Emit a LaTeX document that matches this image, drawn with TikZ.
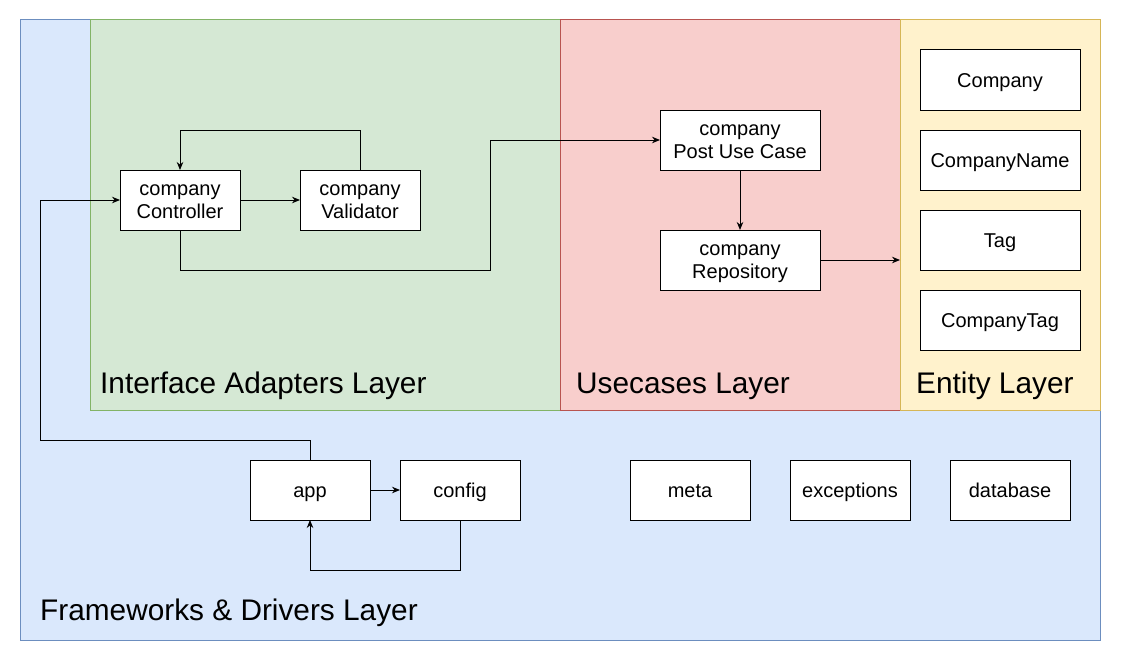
\documentclass[tikz,border=0pt]{standalone}
\usepackage{fontspec}
\setmainfont{Liberation Sans}
\usetikzlibrary{arrows.meta,calc}
\definecolor{bluef}{HTML}{DAE8FC}\definecolor{blues}{HTML}{6C8EBF}
\definecolor{greenf}{HTML}{D5E8D4}\definecolor{greens}{HTML}{82B366}
\definecolor{redf}{HTML}{F8CECC}\definecolor{reds}{HTML}{B85450}
\definecolor{yellowf}{HTML}{FFF2CC}\definecolor{yellows}{HTML}{D6B656}
\tikzset{
  layer/.style={draw, line width=1pt, inner sep=0pt, outer sep=0pt},
  box/.style={draw=black, fill=white, line width=1pt, minimum width=120pt, minimum height=60pt,
    inner sep=0pt, outer sep=0pt, align=center, font=\fontsize{20}{23.5}\selectfont,
    text height=14.3pt, text depth=0pt},
  twobox/.style={box, text height=37.8pt},
  wbox/.style={box, minimum width=160pt},
  wtwobox/.style={twobox, minimum width=160pt},
  lbl/.style={anchor=base west, inner sep=0pt, font=\fontsize{29.8}{34}\selectfont},
  arr/.style={line width=1pt, -{Stealth[length=8pt,width=6.5pt]}},
  ln/.style={line width=1pt}
}
\begin{document}
\begin{tikzpicture}[x=1pt,y=-1pt]
\useasboundingbox (0,0) rectangle (1121,661);
\fill[white] (0,0) rectangle (1121,661);
% layers
\node[layer, draw=blues, fill=bluef, minimum width=1080pt, minimum height=620pt] (fw) at (560,330) {};
\node[layer, draw=greens, fill=greenf, minimum width=470pt, minimum height=390pt] (ia) at (325,215) {};
\node[layer, draw=reds, fill=redf, minimum width=340pt, minimum height=390pt] (uc) at (730,215) {};
\node[layer, draw=yellows, fill=yellowf, minimum width=200pt, minimum height=390pt] (entity) at (1000,215) {};
% labels
\node[lbl] (lia) at (100,393) {Interface Adapters Layer};
\node[lbl] (luc) at (576,393) {Usecases Layer};
\node[lbl] (len) at (916,393) {Entity Layer};
\node[lbl] (lfw) at (40,620) {Frameworks \& Drivers Layer};
% boxes
\node[twobox] (ctrl) at (180,200) {company\\Controller};
\node[twobox] (val) at (360,200) {company\\Validator};
\node[wtwobox] (post) at (740,140) {company\\Post Use Case};
\node[wtwobox] (repo) at (740,260) {company\\Repository};
\node[wbox] (e1) at (1000,80) {Company};
\node[wbox] (e2) at (1000,160) {CompanyName};
\node[wbox] (e3) at (1000,240) {Tag};
\node[wbox] (e4) at (1000,320) {CompanyTag};
\node[box] (app) at (310,490) {app};
\node[box] (cfg) at (460,490) {config};
\node[box] (meta) at (690,490) {meta};
\node[box] (exc) at (850,490) {exceptions};
\node[box] (db) at (1010,490) {database};
% coordinates
\coordinate (b1) at (490,270);
\coordinate (b2) at (490,140);
\coordinate (b3) at (40,440);
% connectors
\draw[arr] (val.north) -- ++(0,-40) -| (ctrl.north);
\draw[arr] (ctrl.east) -- (val.west);
\draw[arr] (ctrl.south) |- (b1) -- (b2) -- (post.west);
\draw[arr] (post.south) -- (repo.north);
\draw[arr] (repo.east) -- (repo.east -| entity.west);
\draw[arr] (app.north) |- (b3) |- (ctrl.west);
\draw[arr] (app.east) -- (cfg.west);
\draw[arr] (cfg.south) -- ++(0,50) -| (app.south);
\end{tikzpicture}
\end{document}
